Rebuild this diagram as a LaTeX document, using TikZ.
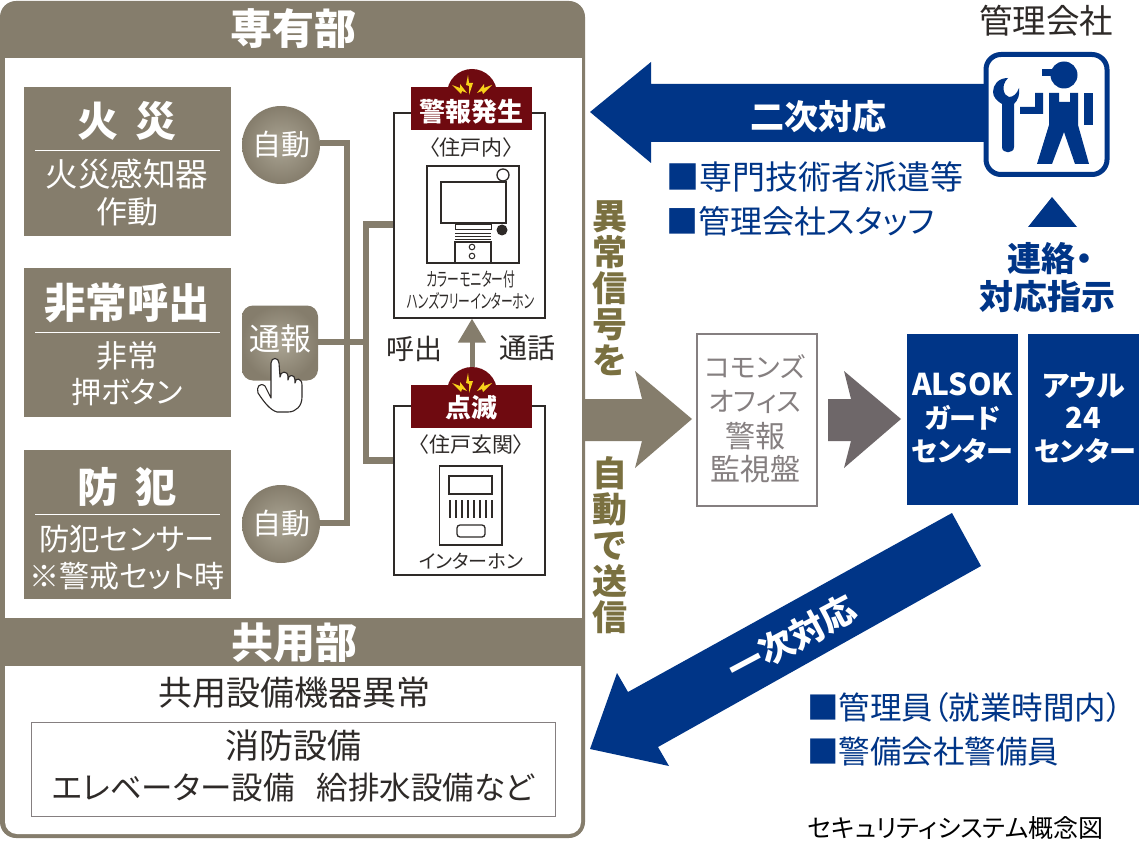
\documentclass[tikz,border=0pt]{standalone}
\usepackage{fontspec}
\usepackage{graphicx}
\usetikzlibrary{arrows.meta}
\setmainfont{Noto Sans CJK JP}[RawFeature=+palt]
\definecolor{taupe}{HTML}{857D6C}
\definecolor{taupelt}{HTML}{ABA594}
\definecolor{navy}{HTML}{003587}
\definecolor{wine}{HTML}{6F0A10}
\definecolor{bolt}{HTML}{F7D21A}
\definecolor{olive}{HTML}{7A7040}
\definecolor{grayarr}{HTML}{6E6769}
\definecolor{graytxt}{HTML}{857F80}
\definecolor{ink}{HTML}{2E2A28}
\newcommand\Fz[2]{\fontsize{#1}{#2}\selectfont}
\newcommand\St{\rule[-.12em]{0pt}{.88em}}
\newcommand\Bolts[1]{\begin{scope}[shift={(0,#1)}]
\fill[bolt] (468,75)--(466,85)--(469,86)--(469,95)--(473,83)--(469,83)--cycle;
\fill[bolt] (452,85)--(460,88)--(460,84)--(467,93)--(462,91)--(461,94)--cycle;
\fill[bolt] (492,85)--(484,88)--(484,84)--(477,93)--(482,91)--(483,94)--cycle;
\end{scope}}
\tikzset{
 txt/.style={inner sep=0pt,outer sep=0pt,align=center},
 wtxt/.style={txt,text=white},
 dtxt/.style={txt,text=ink},
 ntxt/.style={txt,text=navy,anchor=west},
 srcbox/.style={fill=taupe,inner sep=0pt},
 autoc/.style={circle,shade,inner color=taupelt,outer color=taupe,inner sep=0pt,minimum size=78pt},
 conn/.style={draw=taupe,line width=6.5pt},
 devbox/.style={draw=ink,fill=white,line width=1.3pt,inner sep=0pt},
 redlab/.style={fill=wine,inner sep=0pt,minimum width=121pt,minimum height=43pt},
 devln/.style={draw=ink,line width=1.3pt},
 navbox/.style={fill=navy,inner sep=0pt,minimum width=111pt,minimum height=171pt},
}
\begin{document}
\begin{tikzpicture}[x=1pt,y=-1pt]
\useasboundingbox (0,0) rectangle (1140,842);
\fill[white] (0,0) rectangle (1140,842);
% panel
\fill[taupe,rounded corners=16pt] (0,1) rectangle (585,838);
\fill[white] (5,58) rectangle (582,618);
\fill[white] (5,666) -- (581,666) -- (581,822) arc[start angle=0,end angle=90,x radius=12pt,y radius=-12pt] -- (17,834) arc[start angle=90,end angle=180,x radius=12pt,y radius=-12pt] -- cycle;
\node[wtxt] (hA) at (293,29) {\Fz{42}{42}\bfseries\St 専有部};
\node[wtxt] (hB) at (294,643) {\Fz{42}{42}\bfseries\St 共用部};
% sources
\node[srcbox,minimum width=207pt,minimum height=149pt] (fire) at (127.5,161.5) {};
\node[srcbox,minimum width=207pt,minimum height=149pt] (call) at (127.5,342.5) {};
\node[srcbox,minimum width=207pt,minimum height=149pt] (crime) at (127.5,524.5) {};
\draw[white,line width=.8pt] (35,150)--(220,150) (35,332)--(220,332) (35,514)--(220,514);
\node[wtxt] (f1) at (127,121) {\Fz{41}{41}\bfseries\St 火\hspace{.4em}災};
\node[wtxt] (f2) at (127,175) {\Fz{32.5}{32.5}\St 火災感知器};
\node[wtxt] (f3) at (127,212) {\Fz{31}{31}\St 作動};
\node[wtxt] (c1) at (127,303) {\Fz{41.5}{41.5}\bfseries\St 非常呼出};
\node[wtxt] (c2) at (127,356) {\Fz{31}{31}\St 非常};
\node[wtxt] (c3) at (127,393) {\Fz{30}{30}\St 押ボタン};
\node[wtxt] (s1) at (127,487) {\Fz{41}{41}\bfseries\St 防\hspace{.4em}犯};
\node[wtxt] (s2) at (127,540) {\Fz{30.3}{30.3}\St 防犯センサー};
\node[wtxt] (s3) at (127,577) {\Fz{30}{30}\St ※警戒セット時};
% trigger nodes
\node[autoc] (auto1) at (281,145) {};
\node[autoc] (auto2) at (281,524) {};
\node[wtxt] at (auto1) {\Fz{29}{29}\St 自動};
\node[wtxt] at (auto2) {\Fz{29}{29}\St 自動};
\node[rounded corners=11pt,shade,inner color=taupelt,outer color=taupe,minimum width=76pt,minimum height=75pt,inner sep=0pt] (tsuho) at (280,343) {};
\node[wtxt] (tsuhot) at (280,339) {\Fz{31}{31}\St 通報};
% devices
\node[devbox,minimum width=151pt,minimum height=205pt] (dev1) at (469.5,215.5) {};
\node[devbox,minimum width=151pt,minimum height=169pt] (dev2) at (469.5,490.5) {};
% connectors
\coordinate (j1) at (347,143);
\coordinate (j2) at (347,523);
\coordinate (j3) at (366,224.5);
\coordinate (j4) at (366,460.5);
\draw[conn,line join=miter] (auto1.east |- j1) -- (j1) -- (j2) -- (auto2.east |- j2);
\draw[conn,line join=miter] (dev1.west |- j3) -- (j3) -- (j4) -- (dev2.west |- j4);
\coordinate (j5) at (366,342);
\draw[conn] (tsuho.east |- j5) -- (j5);
% hand
\draw[ink,fill=white,line width=1.1pt,line join=round] (271,398) -- (271,363) .. controls (271,357) and (279,357) .. (279,363)
 -- (280,377) .. controls (280,371) and (288,370) .. (288,377) -- (288,380) .. controls (288,374) and (295,374) .. (295,380) -- (295,383)
 .. controls (295,377) and (302,378) .. (302,385) -- (302,397) .. controls (302,406) and (296,412) .. (288,412) -- (277,412)
 .. controls (270,410) and (264,402) .. (258,393) .. controls (256,387) and (260,382) .. (265,386) -- cycle;
% red labels
\fill[wine] (447,94) arc[start angle=180,end angle=360,x radius=25pt,y radius=-25pt] -- cycle;
\fill[wine] (447,392) arc[start angle=180,end angle=360,x radius=25pt,y radius=-25pt] -- cycle;
\node[redlab] (red1) at (471.5,108.5) {};
\node[redlab] (red2) at (471.5,406.5) {};
\Bolts{0}
\Bolts{298}
\node[wtxt] (r1t) at (471,112) {\Fz{26}{26}\bfseries\St 警報発生};
\node[wtxt] (r2t) at (471,408) {\Fz{26}{26}\bfseries\St 点滅};
\draw[taupe,line width=5pt,-{Triangle[width=27pt,length=24pt]}] (472,367) -- (dev1.south -| 472,0);
\node[dtxt] (l1) at (414,349) {\Fz{28}{28}\St 呼出};
\node[dtxt] (l2) at (527,349) {\Fz{28}{28}\St 通話};
\node[dtxt] (d1t) at (471,148) {\Fz{21}{21}\St 〈住戸内〉};
\node[dtxt] (d2t) at (471,445) {\Fz{21}{21}\St 〈住戸玄関〉};
% monitor
\draw[devln] (427,166) rectangle (519,263);
\draw[devln] (441,182) rectangle (506,223);
\draw[devln,fill=white] (503,175) circle (6);
\fill[ink] (502,230) circle (5.5);
\draw[draw=ink,line width=1pt] (455,225) rectangle (491,230);
\draw[ink,line width=1pt] (455,233.5)--(491,233.5) (455,236.5)--(491,236.5) (455,239.5)--(491,239.5);
\draw[devln] (455,263)--(455,242)--(491,242)--(491,263);
\draw[ink,line width=1pt] (472,247) circle (2.8) (472,256) circle (2.8);
\node[dtxt] (d1a) at (471,280) {\scalebox{.62}[1]{\Fz{19}{19}\St カラーモニター付}};
\node[dtxt] (d1b) at (471,302) {\scalebox{.62}[1]{\Fz{19}{19}\St ハンズフリーインターホン}};
% intercom
\draw[devln] (439.5,466) rectangle (502,545);
\draw[devln] (449,476) rectangle (492,494);
\foreach \bx in {450,456,462,468,474,480,486,492}{\draw[ink,line width=1.1pt] (\bx,500)--(\bx,518);}
\draw[devln,rounded corners=3pt] (457,525) rectangle (485,537);
\node[dtxt] (d2a) at (471,562) {\Fz{19}{19}\St インターホン};
% lower panel
\node[dtxt] (g1) at (294,693) {\Fz{34}{34}\St 共用設備機器異常};
\draw[draw=graytxt,line width=.9pt] (31,722) rectangle (555,816);
\node[dtxt] (g2) at (293,746) {\Fz{34}{34}\St 消防設備};
\node[dtxt] (g3) at (293,788) {\Fz{31.5}{31.5}\St エレベーター設備\hspace{.7em}給排水設備など};
% signal text and arrow
\fill[taupe] (584,399)--(642,399)--(635,371)--(692,419)--(635,468)--(642,441)--(584,441)--cycle;
\node[txt,text=olive,font=\Fz{35}{36}\bfseries] (v1) at (610,289) {異\St\\常\St\\信\St\\号\St\\を\St};
\node[txt,text=olive,font=\Fz{35}{36}\bfseries] (v2) at (610,546) {自\St\\動\St\\で\St\\送\St\\信\St};
% commons
\node[draw=graytxt,fill=white,line width=1.4pt,minimum width=120pt,minimum height=172pt,inner sep=0pt] (com) at (757,420) {};
\node[txt,text=graytxt] (c1t) at (755,368) {\Fz{27}{27}\St コモンズ};
\node[txt,text=graytxt] (c2t) at (755,403) {\Fz{27}{27}\St オフィス};
\node[txt,text=graytxt] (c3t) at (755,437) {\Fz{30}{30}\St 警報};
\node[txt,text=graytxt] (c4t) at (755,470) {\Fz{30}{30}\St 監視盤};
\fill[grayarr] (828,399)--(851,399)--(844,371)--(901,419)--(844,468)--(851,441)--(828,441)--cycle;
% centres
\node[navbox] (als) at (962.5,419.5) {};
\node[navbox] (owl) at (1083.5,419.5) {};
\node[wtxt] (a1) at (962.5,386) {\Fz{30}{30}\bfseries\St ALSOK};
\node[wtxt] (a2) at (962.5,419) {\Fz{27}{27}\bfseries\St ガード};
\node[wtxt] (a3) at (962.5,452) {\Fz{27}{27}\bfseries\St センター};
\node[wtxt] (o1) at (1083.5,386) {\Fz{29}{29}\bfseries\St アウル};
\node[wtxt] (o2) at (1083.5,419) {\Fz{29}{29}\bfseries\St 24};
\node[wtxt] (o3) at (1085,452) {\Fz{27}{27}\bfseries\St センター};
% top navy arrow
\fill[navy] (990,84)--(651,84)--(651,62)--(590,112)--(651,163)--(651,142)--(990,142)--cycle;
\node[wtxt] (n1) at (818,117) {\Fz{34}{34}\bfseries\St 二次対応};
\node[ntxt] (n2) at (666,178) {\Fz{33}{33}\St ■専門技術者派遣等};
\node[ntxt] (n3) at (666,222) {\Fz{32}{32}\St ■管理会社スタッフ};
% icon
\node[dtxt] (mg) at (1046,21) {\Fz{33.5}{33.5}\St 管理会社};
\node[draw=navy,fill=white,line width=5pt,rounded corners=15pt,minimum width=121pt,minimum height=120pt,inner sep=0pt] (icon) at (1046.5,114.5) {};
\fill[navy] (1064,75) circle (13.5);
\fill[navy] (1042,69) rectangle (1060,76);
\fill[navy] (1035,93)--(1043,93)--(1043,114)--(1020,114)--(1020,107)--(1035,107)--cycle;
\fill[navy] (1049,93)--(1059,93)--(1059,102)--(1070,102)--(1070,93)--(1078,93)--(1078,125)--(1089,164)--(1075,164)--(1064,132)--(1052,164)--(1037,164)--(1049,125)--cycle;
\fill[navy] (1084,93) rectangle (1093,125);
\fill[navy] (1008,78) .. controls (998,78) and (993,85) .. (993,92) .. controls (993,97) and (997,101) .. (1002,104) -- (1002,147) .. controls (1002,154) and (1014,154) .. (1014,147) -- (1014,104) .. controls (1018,100) and (1020,95) .. (1019,88) .. controls (1017,94) and (1013,97) .. (1009,97) .. controls (1004,96) and (1000,86) .. (1008,78) -- cycle;
% up triangle
\fill[navy] (1028,227)--(1052,197)--(1077,227)--cycle;
\node[txt,text=navy] (k1) at (1050,259) {\Fz{34}{34}\bfseries\St 連絡・};
\node[txt,text=navy] (k2) at (1047,297) {\Fz{34}{34}\bfseries\St 対応指示};
% diagonal arrow
\fill[navy] (952,513)--(981,566)--(658,747)--(669,766)--(590,749)--(617,673)--(628,692)--cycle;
\node[wtxt,rotate=28] (n4) at (792,639) {\Fz{35}{35}\bfseries\St 一次対応};
\node[ntxt] (n5) at (807,708) {\Fz{31.5}{31.5}\St ■管理員（就業時間内）};
\node[ntxt] (n6) at (807,752) {\Fz{31.5}{31.5}\St ■警備会社警備員};
\node[txt,text=black,anchor=west] (cap) at (808,828) {\Fz{25}{25}\St セキュリティシステム概念図};
\end{tikzpicture}
\end{document}
